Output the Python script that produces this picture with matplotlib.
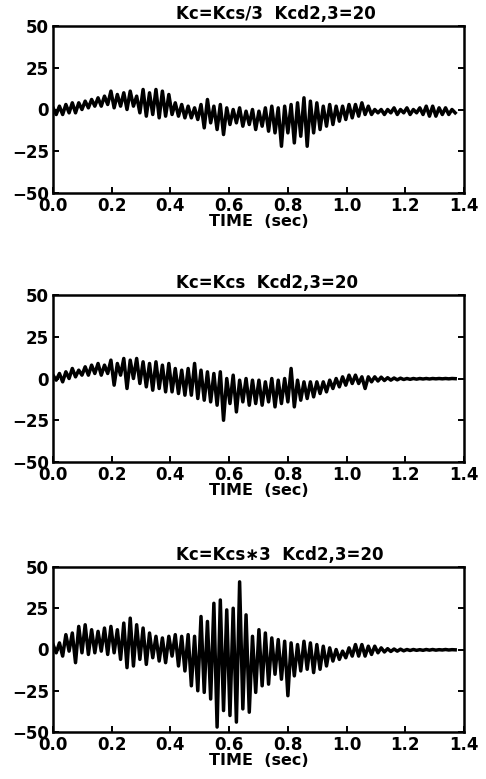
import numpy as np
import matplotlib
matplotlib.use("Agg")
import matplotlib.pyplot as plt

titles = ["Kc=Kcs/3  Kcd2,3=20", "Kc=Kcs  Kcd2,3=20", "Kc=Kcs\u22173  Kcd2,3=20"]
x_ticks = [0.0, 0.2, 0.4, 0.6, 0.8, 1.0, 1.2, 1.4]
y_ticks = [-50, -25, 0, 25, 50]
t_end = 1.37

sig_a = [1, -3, 2, -3, 3, -2, 4, -2, 4, 0,
         5, 1, 6, 2, 7, 2, 8, 3, 11, 1,
         9, 2, 10, 0, 11, 2, 8, -2, 12, -4,
         10, -3, 12, -5, 11, -4, 9, -3, 4, -4,
         3, -5, 2, -5, 1, -6, 3, -11, 6, -8,
         2, -12, 3, -15, 1, -9, 0, -8, 1, -10,
         -1, -9, 0, -12, -1, -10, 1, -13, 2, -14,
         1, -22, 2, -14, 3, -20, 4, -16, 7, -22,
         5, -14, 4, -12, 2, -10, 3, -9, 2, -7,
         2, -6, 3, -5, 3, -4, 4, -3, 2, -3,
         0, -2, 0, -3, 0, -2, 1, -3, 0, -2,
         1, -3, 0, -2, 1, -3, 2, -4, 2, -4,
         1, -3, 1, -3, 0, -2]

sig_b = [2, -1, 3, -2, 4, 0, 6, 1, 5, 2,
         7, 2, 8, 3, 9, 2, 8, 3, 11, -4,
         9, 2, 12, -6, 11, 0, 12, -3, 10, -5,
         9, -7, 10, -6, 8, -8, 9, -8, 6, -9,
         5, -10, 6, -10, 9, -12, 5, -13, 4, -14,
         3, -16, 4, -25, 0, -15, 2, -20, -1, -14,
         0, -16, -1, -15, -1, -16, -2, -14, 0, -17,
         -1, -15, 0, -14, 6, -17, -1, -13, -2, -12,
         -2, -11, -2, -9, -2, -8, -1, -6, 0, -5,
         1, -4, 2, -3, 2, -3, 1, -6, 1, -2,
         1, -1.5, 0.8, -1.2, 0.5, -1, 0.3, -0.8, 0.2, -0.6,
         0, -0.5, 0, -0.4, 0, -0.3, 0, -0.3, 0, -0.2,
         0, -0.2, 0, -0.2, 0, -0.1]

sig_c = [3, -2, 4, -4, 9, -1, 10, -8, 14, -2,
         15, -3, 12, -2, 11, -1, 13, -3, 14, -2,
         12, -6, 16, -11, 19, -10, 15, -6, 13, -9,
         10, -5, 8, -7, 7, -8, 8, -4, 9, -10,
         8, -13, 9, -22, 8, -25, 20, -26, 17, -30,
         28, -47, 30, -37, 24, -40, 25, -44, 41, -36,
         21, -38, 8, -26, 12, -22, 10, -21, 7, -15,
         6, -18, 5, -28, 4, -16, 3, -13, 5, -12,
         4, -14, 3, -12, 2, -10, 1, -7, 0, -6,
         -1, -5, 1, -4, 3, -4, 3, -4, 2, -3,
         2, -2, 1, -1.5, 0.5, -1.2, 0.3, -1, 0.2, -0.8,
         0, -0.6, 0, -0.5, -0.1, -0.5, 0, -0.4, 0, -0.4,
         -0.1, -0.3, 0, -0.3, -0.1, -0.2]

signals = [sig_a, sig_b, sig_c]

plt.rcParams['font.family'] = ['DejaVu Sans']

fig = plt.figure(figsize=(4.86, 7.79), dpi=100)
rects = [
    [53/486, (779-193)/779, 411/486, 167/779],
    [53/486, (779-462)/779, 411/486, 167/779],
    [53/486, (779-732)/779, 411/486, 165/779],
]

for rect, sig, title in zip(rects, signals, titles):
    ax = fig.add_axes(rect)
    y = np.array(sig, dtype=float)
    t = np.linspace(0, t_end, len(y))
    ax.plot(t, y, color='black', lw=2.5, solid_joinstyle='round')
    ax.set_xlim(0, 1.4)
    ax.set_ylim(-50, 50)
    ax.set_xticks(x_ticks)
    ax.set_xticklabels([f"{v:.1f}" for v in x_ticks], fontsize=12, fontweight='bold')
    ax.set_yticks(y_ticks)
    ax.set_yticklabels([str(v).replace('-', '\u2212') for v in y_ticks],
                       fontsize=12, fontweight='bold')
    ax.tick_params(direction='in', length=4, width=1.4,
                   left=True, right=True, bottom=True, top=False)
    ax.tick_params(axis='x', pad=3)
    ax.tick_params(axis='y', pad=3)
    for s in ax.spines.values():
        s.set_linewidth(1.8)
    ax.set_xlabel("TIME  (sec)", fontsize=11.5, fontweight='bold', labelpad=-1)
    ax.set_title(title, fontsize=12, fontweight='bold',
                 x=(176-53)/411, ha='left', pad=5)

fig.savefig("out.png", dpi=100)
